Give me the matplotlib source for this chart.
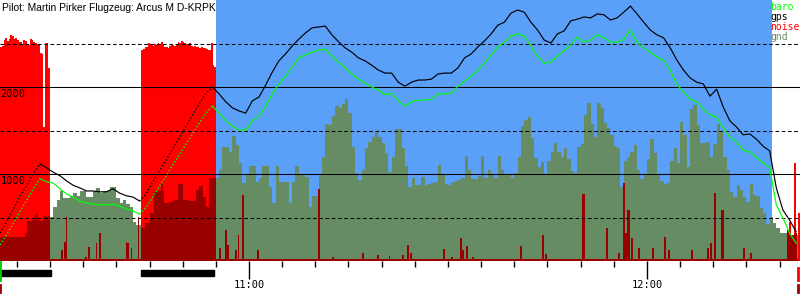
import numpy as np
import matplotlib
matplotlib.use('Agg')
import matplotlib.pyplot as plt
from matplotlib.patches import Rectangle
import matplotlib.transforms as mtransforms

# all times are minutes after 10:00, heights in metres
title = 'Pilot: Martin Pirker Flugzeug: Arcus M D-KRPK'
t_first, t_last = 22.46, 143.07
takeoff, landing = 22.5, 142.77

# baro / gps altitude, one value per minute from 10:22:30
line_start = 22.5
gps = [322, 460, 600, 750, 870, 1010, 1115, 1070, 1020, 980,
       920, 870, 840, 805, 805, 795, 795, 830, 780, 750,
       735, 690, 770, 910, 1035, 1160, 1290, 1415, 1550, 1680,
       1805, 1930, 2000, 1920, 1830, 1760, 1725, 1700, 1840, 1885,
       2020, 2170, 2300, 2380, 2470, 2550, 2620, 2680, 2690, 2700,
       2600, 2520, 2450, 2400, 2335, 2300, 2250, 2195, 2160, 2160,
       2055, 2010, 2055, 2080, 2080, 2090, 2150, 2160, 2160, 2220,
       2335, 2380, 2460, 2530, 2610, 2710, 2745, 2850, 2885, 2860,
       2745, 2655, 2540, 2505, 2610, 2645, 2760, 2780, 2805, 2795,
       2840, 2830, 2770, 2795, 2860, 2930, 2840, 2745, 2655, 2600,
       2565, 2450, 2310, 2195, 2105, 2055, 2035, 1895, 1975, 1770,
       1610, 1540, 1450, 1460, 1400, 1320, 1265, 840, 585, 470,
       335]
baro = [185, 310, 435, 575, 700, 830, 945, 910, 895, 830,
        770, 735, 690, 665, 655, 645, 645, 655, 630, 600,
        575, 540, 620, 735, 860, 975, 1105, 1220, 1345, 1460,
        1585, 1700, 1780, 1700, 1610, 1550, 1505, 1505, 1610, 1665,
        1780, 1920, 2035, 2125, 2230, 2335, 2370, 2400, 2425, 2435,
        2355, 2285, 2220, 2150, 2090, 2045, 2000, 1965, 1910, 1930,
        1840, 1780, 1830, 1850, 1850, 1860, 1920, 1920, 1930, 2010,
        2070, 2125, 2195, 2275, 2370, 2460, 2515, 2585, 2610, 2585,
        2470, 2355, 2275, 2285, 2355, 2415, 2485, 2575, 2515, 2540,
        2600, 2565, 2515, 2515, 2550, 2655, 2515, 2450, 2400, 2345,
        2310, 2185, 2035, 1940, 1860, 1830, 1745, 1680, 1655, 1530,
        1425, 1370, 1275, 1255, 1195, 1125, 1070, 645, 495, 320,
        205]
# index ranges of the powered climbs (drawn dotted)
climbs = [(0, 6), (21, 32)]

# ground elevation, every 30 s from 10:30
gnd_start = 30.0
gnd = [510, 620, 700, 805, 725, 720, 745, 780, 745, 805,
       805, 735, 740, 805, 840, 780, 805, 805, 850, 850,
       720, 665, 700, 660, 620, 450, 415, 415,
       820, 850, 870, 900, 920, 880, 900, 930, 950, 900, 880,
       920, 950, 980, 1000, 960, 940, 980, 1000, 1050, 1000, 980,
       950, 1050, 1310, 1310, 1255, 1435, 1330, 1125, 895, 1000,
       1090, 1090, 910, 950, 1090, 1090, 850, 665, 1090, 910,
       910, 910, 665, 910, 1090, 1000, 1000, 960, 620, 745,
       745, 1000, 1200, 1570, 1565, 1665, 1780, 1760, 1800, 1860,
       1700, 1310, 1010, 930, 1050, 1300, 1370, 1425, 1495, 1425,
       1355, 1240, 1025, 1200, 1515, 1515, 1300, 1090, 850, 955,
       875, 875, 965, 875, 880, 900, 910, 1105, 1000, 890,
       875, 910, 915, 930, 955, 1205, 1045, 945, 945, 980,
       1205, 955, 1045, 1000, 955, 1205, 1045, 1000, 1000, 955,
       1010, 1195, 1550, 1620, 1655, 1415, 1185, 1080, 1140, 990,
       1150, 1255, 1355, 1250, 1195, 1300, 1170, 1040, 1010, 1310,
       1350, 1680, 1815, 1575, 1430, 1820, 1760, 1585, 1530, 1450,
       1320, 1300, 850, 1150, 1200, 1250, 1330, 1050, 940, 1000,
       1170, 1400, 1240, 1000, 920, 890, 900, 1150, 1300, 1125,
       1600, 1450, 1080, 1750, 1795, 1565, 1360, 1360, 1370, 1200,
       1350, 1580, 1500, 1195, 1045, 795, 735, 875, 815, 735,
       680, 880, 760, 750, 610, 550, 420, 505, 435, 380,
       320, 320, 320, 300, 300, 300]

# engine runs: noise every 15 s (bright) and lower level (dark)
eng1_start, eng2_start = 22.5, 43.75
eng1_noise = [2460, 2470, 2540, 2560, 2530, 2550, 2600, 2590, 2550, 2560,
              2540, 2515, 2520, 2500, 2540, 2530, 2490, 2480, 2550, 2545,
              2515, 2510, 2490, 2500, 2390, 2380, 1540, 2505, 2505, 2220]
eng1_level = [275, 275, 275, 275, 275, 275, 275, 275, 275, 275,
              275, 275, 275, 275, 275, 320, 460, 460, 460, 470,
              470, 540, 540, 470, 460, 460, 515, 520, 510, 515]
eng2_noise = [2425, 2440, 2460, 2455, 2505, 2500, 2480, 2470, 2490, 2480,
              2505, 2490, 2520, 2500, 2460, 2465, 2450, 2470, 2480, 2485,
              2470, 2490, 2520, 2510, 2525, 2515, 2505, 2500, 2490, 2510,
              2470, 2460, 2475, 2465, 2460, 2450, 2455, 2445, 2450, 2440,
              2425, 2420, 2505, 2250, 2230]
eng2_level = [380, 380, 437, 437, 437, 550, 550, 550, 790, 790,
              800, 805, 885, 805, 670, 667, 667, 678, 678, 700,
              700, 700, 885, 880, 885, 700, 700, 700, 700, 690,
              690, 690, 690, 815, 815, 860, 860, 735, 735, 620,
              620, 955, 955, 955, 955]
engine_runs = [(22.46, 30.15), (43.72, 54.74)]

# noise spikes while gliding
noise_floor = 25
spike_t = [31.81, 32.26, 32.52, 35.43, 35.88, 37.04, 37.54, 41.56, 41.76, 42.32,
           43.37, 55.63, 56.53, 56.84, 58.04, 58.42, 59.10, 61.36, 70.55, 72.67,
           77.19, 79.45, 81.18, 83.22, 83.97, 84.42, 89.40, 90.61, 91.96, 92.26,
           92.87, 93.77, 101.01, 104.33, 104.78, 110.36, 110.51, 113.97, 115.78, 116.54,
           116.84, 117.14, 117.29, 117.74, 118.80, 120.91, 122.72, 123.32, 126.79, 129.20,
           129.65, 130.26, 131.31, 131.46, 134.63, 135.69, 141.27, 141.57, 141.87, 142.17,
           142.47]
spike_h = [126, 218, 506, 50, 160, 207, 322, 218, 207, 150,
           506, 150, 356, 184, 126, 300, 760, 126, 828, 46,
           92, 69, 57, 69, 184, 92, 138, 50, 264, 126,
           172, 50, 172, 300, 80, 770, 770, 380, 92, 897,
           322, 586, 586, 264, 150, 150, 276, 126, 126, 150,
           207, 782, 586, 586, 150, 92, 356, 300, 300, 300,
           320]
loud_t = [141.57, 142.32, 142.92]
loud_h = [450, 1126, 552]

blue_span = (55.05, 138.85)

fig = plt.figure(figsize=(8, 3), dpi=100)
ax = fig.add_axes([0, 39 / 300, 1, 261 / 300])
ax.set_xlim(t_first, t_last)
ax.set_ylim(0, 3000)
for s in ax.spines.values():
    s.set_visible(False)
ax.set_yticks([])

ax.axvspan(*blue_span, color='#5a9ff8', lw=0, zorder=0)

t_gnd = gnd_start + 0.5 * np.arange(len(gnd))
ax.bar(t_gnd, gnd, width=0.5, align='edge', color='#658c63', lw=0, antialiased=False, zorder=1)

t1 = eng1_start + 0.25 * np.arange(len(eng1_noise))
t2 = eng2_start + 0.25 * np.arange(len(eng2_noise))
ax.bar(t1, eng1_noise, width=0.25, align='edge', color='#ff0000', lw=0, antialiased=False, zorder=2)
ax.bar(t2, eng2_noise, width=0.25, align='edge', color='#ff0000', lw=0, antialiased=False, zorder=2)
ax.bar(loud_t, loud_h, width=0.18, color='#ff0000', lw=0, antialiased=False, zorder=2)
ax.bar(t1, eng1_level, width=0.25, align='edge', color='#990000', lw=0, antialiased=False, zorder=3)
ax.bar(t2, eng2_level, width=0.25, align='edge', color='#990000', lw=0, antialiased=False, zorder=3)
ax.bar(spike_t, spike_h, width=0.18, color='#990000', lw=0, antialiased=False, zorder=3)
ax.fill_between([takeoff, landing], 0, noise_floor, color='#990000', lw=0, zorder=3)

for y in (1000, 2000):
    ax.axhline(y, color='black', lw=0.75, zorder=4)
for y in (500, 1500, 2500):
    ax.axhline(y, color='black', lw=0.75, ls=(0, (3.5, 2.5)), zorder=4)

# altitude lines: solid while gliding, dotted during the powered climbs
t_line = line_start + np.arange(len(gps))
for vals, col in [(np.array(baro, float), '#00ff00'), (np.array(gps, float), 'black')]:
    glide = vals.copy()
    for a, b in climbs:
        glide[a + 1:b] = np.nan
        ax.plot(t_line[a:b + 1], vals[a:b + 1], color=col, lw=1.0, ls=(0, (1, 1.5)), zorder=5)
    ax.plot(t_line, glide, color=col, lw=0.85, zorder=5)

mono = 'DejaVu Sans Mono'
for y in (1000, 2000):
    ax.text(t_first + 0.1, y - 25, str(y), ha='left', va='top', fontsize=7.5, family=mono, zorder=6)

# time axis
ax.set_xticks([60, 120], ['11:00', '12:00'])
ax.set_xticks([m for m in range(25, 145, 5) if m % 60], minor=True)
ax.tick_params(which='major', length=13, width=1, direction='out', pad=1, labelsize=7.5)
ax.tick_params(which='minor', length=4.5, width=1, direction='out')
for lbl in ax.get_xticklabels():
    lbl.set_family(mono)

trans = mtransforms.blended_transform_factory(ax.transData, ax.transAxes)
for a, b in engine_runs:
    ax.add_patch(Rectangle((a, -0.0575), b - a, 0.023, transform=trans,
                           color='black', clip_on=False))
ax.plot([takeoff, takeoff], [-0.004, -0.073], color='#00cc00', lw=2, transform=trans, clip_on=False)
ax.plot([takeoff, takeoff], [-0.092, -0.119], color='#990000', lw=2, transform=trans, clip_on=False)
ax.plot([landing, landing], [-0.027, -0.073], color='#ff0000', lw=2, transform=trans, clip_on=False)
ax.plot([landing, landing], [-0.092, -0.119], color='#990000', lw=2, transform=trans, clip_on=False)

fig.text(0.002, 1 - 8 / 300, title, ha='left', va='center', fontsize=7.4, family='Liberation Sans')
for i, (name, col) in enumerate([('baro', '#00ff00'), ('gps', 'black'),
                                 ('noise', '#ff0000'), ('gnd', '#658c63')]):
    fig.text(770 / 800, 1 - (7 + 10 * i) / 300, name, color=col, ha='left', va='center',
             fontsize=7, family=mono)

fig.savefig('out.png', dpi=100)
